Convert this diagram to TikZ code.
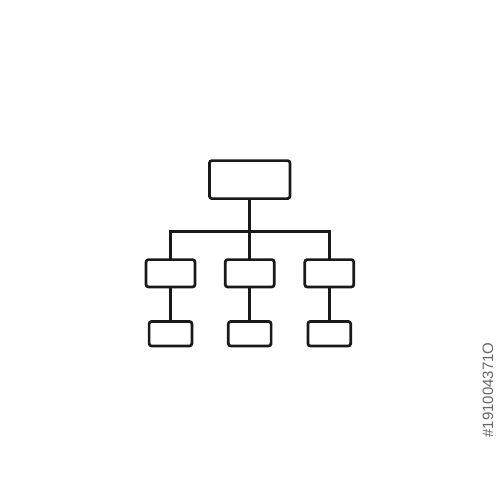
\documentclass[tikz,border=0pt]{standalone}
\usepackage{fontspec}
\newfontfamily\idfont{Liberation Sans}
\begin{document}
\begin{tikzpicture}[x=1pt,y=-1pt,
  box/.style={draw=black!90,line width=2.7pt,rounded corners=2.5pt,inner sep=0pt,outer sep=0pt},
  topbox/.style={box,minimum width=80.6pt,minimum height=38pt},
  midbox/.style={box,minimum width=49pt,minimum height=27.4pt},
  botbox/.style={box,minimum width=42.8pt,minimum height=24.6pt},
  link/.style={draw=black!90,line width=2.7pt}]
\fill[white] (0,0) rectangle (500,500);
\useasboundingbox (0,0) rectangle (500,500);
\node[topbox] (top) at (249.7,179.6) {};
\node[midbox] (m1) at (170.5,273.3) {};
\node[midbox] (m2) at (249.7,273.3) {};
\node[midbox] (m3) at (329.3,273.3) {};
\node[botbox] (b1) at (170.5,333.7) {};
\node[botbox] (b2) at (249.7,333.7) {};
\node[botbox] (b3) at (329.3,333.7) {};
\coordinate (bL) at (170.5,231.7);
\coordinate (bR) at (329.3,231.7);
\draw[link] (top.south) -- (m2.north);
\draw[link] (m1.north) -- (bL) -- (bR) -- (m3.north);
\draw[link] (m1.south) -- (b1.north);
\draw[link] (m2.south) -- (b2.north);
\draw[link] (m3.south) -- (b3.north);
\node[rotate=90,text=black!60,font=\idfont\fontsize{15}{15}\selectfont,inner sep=0pt] (id) at (488,390) {\#191004371O};
\end{tikzpicture}
\end{document}
